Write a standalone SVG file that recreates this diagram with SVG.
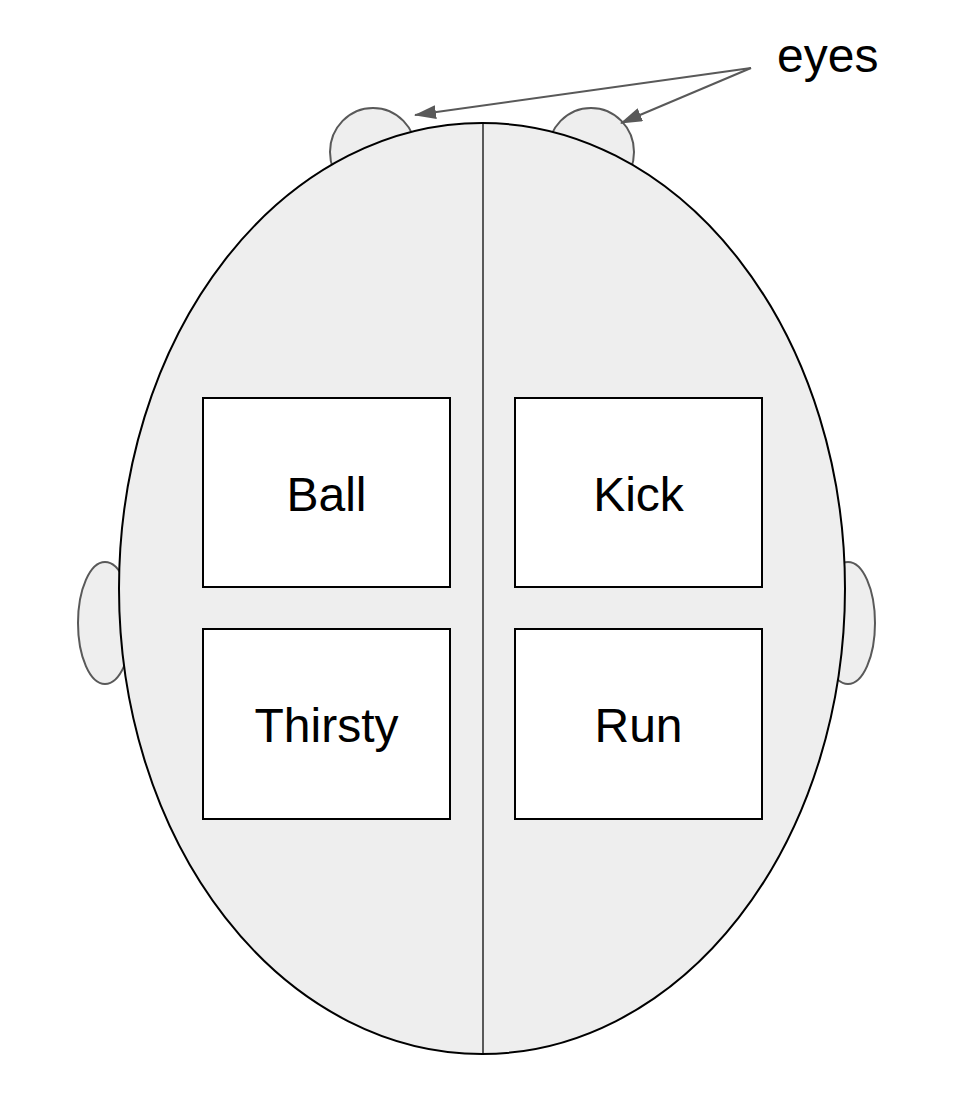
<svg xmlns="http://www.w3.org/2000/svg" width="958" height="1110" viewBox="0 0 958 1110">
<defs>
<style>
.part{fill:#eeeeee;stroke:#595959;stroke-width:2}
.head{fill:#eeeeee;stroke:#000;stroke-width:2}
.box{fill:#fff;stroke:#000;stroke-width:2}
.lbl{font-family:"Liberation Sans",Arial,sans-serif;font-size:48px;fill:#000;text-anchor:middle}
.conn{stroke:#595959;stroke-width:2;fill:none}
</style>
<marker id="arr" viewBox="0 0 22 14" refX="21" refY="7" markerWidth="11" markerHeight="7" markerUnits="strokeWidth" orient="auto">
<path d="M0,0 L22,7 L0,14 z" fill="#595959"/>
</marker>
</defs>
<rect width="958" height="1110" fill="#fff"/>
<g id="eye-left"><ellipse class="part" cx="373" cy="152" rx="43" ry="44"/></g>
<g id="eye-right"><ellipse class="part" cx="591" cy="152" rx="43" ry="44"/></g>
<g id="ear-left"><ellipse class="part" cx="105" cy="623" rx="27" ry="61"/></g>
<g id="ear-right"><ellipse class="part" cx="848" cy="623" rx="27" ry="61"/></g>
<g id="head"><ellipse class="head" cx="482" cy="588.5" rx="363" ry="465.5"/></g>
<g id="midline"><line x1="483" y1="124" x2="483" y2="1053" stroke="#595959" stroke-width="2"/></g>
<g id="ball"><rect class="box" x="203" y="398" width="247" height="189"/><text class="lbl" x="326.5" y="511">Ball</text></g>
<g id="kick"><rect class="box" x="515" y="398" width="247" height="189"/><text class="lbl" x="638.5" y="511">Kick</text></g>
<g id="thirsty"><rect class="box" x="203" y="629" width="247" height="190"/><text class="lbl" x="326.5" y="742">Thirsty</text></g>
<g id="run"><rect class="box" x="515" y="629" width="247" height="190"/><text class="lbl" x="638.5" y="742">Run</text></g>
<g id="eyes-label"><text x="777" y="72" style="font-family:'Liberation Sans',Arial,sans-serif;font-size:48px;fill:#000">eyes</text></g>
<g id="connectors">
<line class="conn" x1="751" y1="68" x2="415" y2="115" marker-end="url(#arr)"/>
<line class="conn" x1="751" y1="68" x2="621" y2="123" marker-end="url(#arr)"/>
</g>
</svg>
